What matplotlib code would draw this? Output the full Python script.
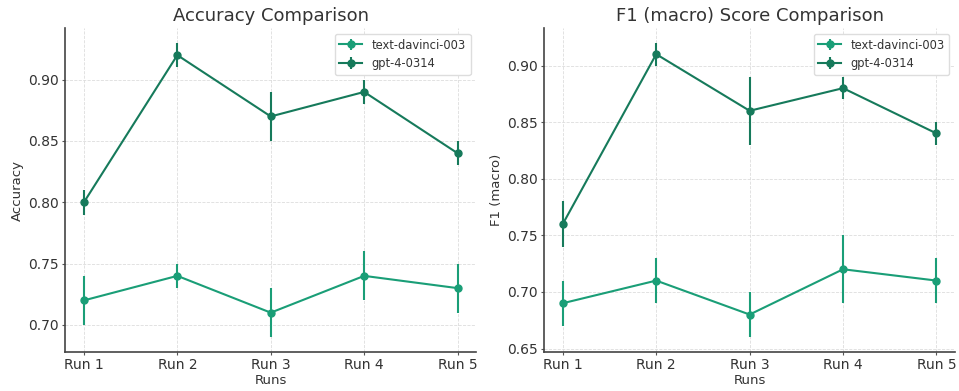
import matplotlib.pyplot as plt

runs = ["Run 1", "Run 2", "Run 3", "Run 4", "Run 5"]
models = ["text-davinci-003", "gpt-4-0314"]

acc_davinci = [0.72, 0.74, 0.71, 0.74, 0.73]
acc_davinci_err = [0.02, 0.01, 0.02, 0.02, 0.02]
acc_gpt4 = [0.80, 0.92, 0.87, 0.89, 0.84]
acc_gpt4_err = [0.01, 0.01, 0.02, 0.01, 0.01]

f1_davinci = [0.69, 0.71, 0.68, 0.72, 0.71]
f1_davinci_err = [0.02, 0.02, 0.02, 0.03, 0.02]
f1_gpt4 = [0.76, 0.91, 0.86, 0.88, 0.84]
f1_gpt4_err = [0.02, 0.01, 0.03, 0.01, 0.01]

colors = ["#1a9e77", "#167a5b"]
text_color = "#333333"

plt.rcParams["font.family"] = "DejaVu Sans"
plt.rcParams["text.color"] = text_color
plt.rcParams["axes.labelcolor"] = text_color
plt.rcParams["xtick.color"] = text_color
plt.rcParams["ytick.color"] = text_color

fig, axes = plt.subplots(1, 2, figsize=(9.59, 3.91), dpi=100)

panels = [
    (axes[0], "Accuracy Comparison", "Accuracy",
     [(acc_davinci, acc_davinci_err), (acc_gpt4, acc_gpt4_err)]),
    (axes[1], "F1 (macro) Score Comparison", "F1 (macro)",
     [(f1_davinci, f1_davinci_err), (f1_gpt4, f1_gpt4_err)]),
]

for ax, title, ylabel, series in panels:
    for (vals, errs), name, c in zip(series, models, colors):
        ax.errorbar(runs, vals, yerr=errs, label=name, color=c,
                    marker="o", markersize=5, linewidth=1.5,
                    elinewidth=1.5, capsize=0)
    ax.set_title(title, fontsize=13, color=text_color, pad=5)
    ax.set_xlabel("Runs", fontsize=9.5, labelpad=1)
    ax.set_ylabel(ylabel, fontsize=9.5, labelpad=3)
    ax.tick_params(labelsize=10, length=2.5, pad=2, color="#555555")
    ax.grid(True, linestyle="--", linewidth=0.6, color="#dddddd")
    ax.set_axisbelow(True)
    for side in ["top", "right"]:
        ax.spines[side].set_visible(False)
    for side in ["left", "bottom"]:
        ax.spines[side].set_color("#444444")
        ax.spines[side].set_linewidth(1.2)
    leg = ax.legend(loc="upper right", fontsize=8.3, framealpha=1,
                    edgecolor="#dddddd")
    for t in leg.get_texts():
        t.set_color(text_color)

plt.subplots_adjust(left=0.068, right=0.996, top=0.928, bottom=0.1, wspace=0.165)
fig.savefig("out.png")
